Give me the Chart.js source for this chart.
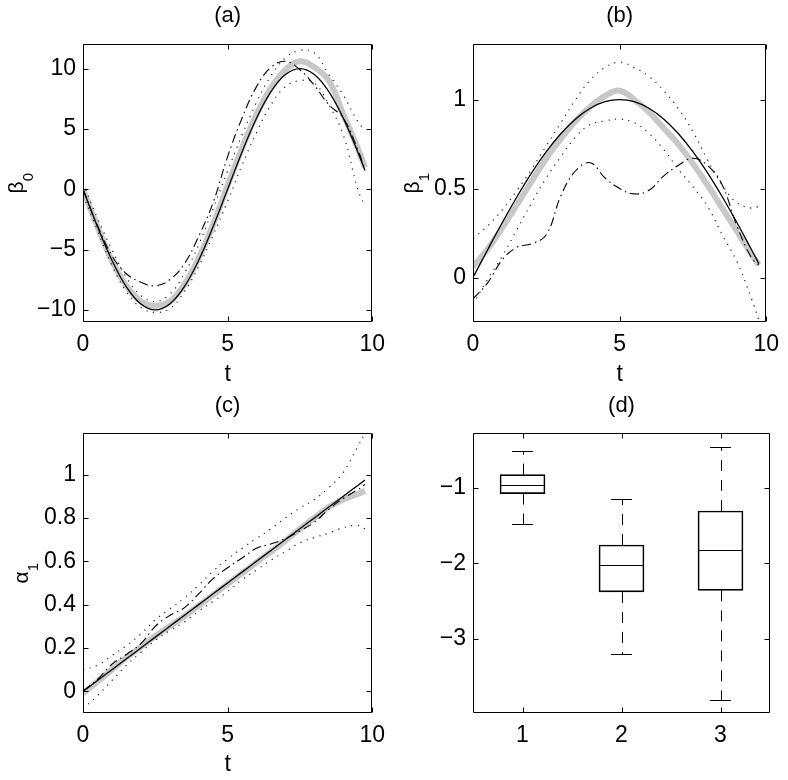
<!DOCTYPE html>
<html>
<head>
<meta charset="utf-8">
<script src="https://cdn.jsdelivr.net/npm/chart.js@4.4.1/dist/chart.umd.min.js"></script>
<style>
  html, body { margin: 0; padding: 0; background: #fff; }
  #wrap { position: relative; width: 788px; height: 780px; }
  canvas { position: absolute; }
</style>
</head>
<body>
<div id="wrap">
  <canvas id="panelA" width="394" height="390" style="left:0;top:0"></canvas>
  <canvas id="panelB" width="394" height="390" style="left:394px;top:0"></canvas>
  <canvas id="panelC" width="394" height="390" style="left:0;top:390px"></canvas>
  <canvas id="panelD" width="394" height="390" style="left:394px;top:390px"></canvas>
</div>
<script>
/* ══════════════════════════════
   DATA
══════════════════════════════ */
const tGrid = [0, 0.5, 1, 1.5, 2, 2.5, 3, 3.5, 4, 4.5, 5, 5.5, 6, 6.5, 7, 7.5, 8, 8.5, 9, 9.5, 9.75];
const tTicks = [0, 5, 10];

// (a) beta0
const beta0True  = [0, -3.09, -5.88, -8.09, -9.51, -10, -9.51, -8.09, -5.88, -3.09, 0, 3.09, 5.88, 8.09, 9.51, 10, 9.51, 8.09, 5.88, 3.09, 1.56];
const beta0Mean  = [0, -3.1, -5.9, -8.0, -9.3, -9.65, -9.3, -7.9, -5.7, -2.9, 0.3, 3.4, 6.2, 8.4, 9.9, 10.6, 10.1, 9.0, 6.2, 3.4, 1.8];
const beta0Alt   = [0, -3.0, -5.5, -7.0, -7.7, -8.0, -7.5, -6.2, -3.9, -1.1, 2.7, 5.9, 8.5, 10.1, 10.6, 9.9, 8.6, 7.0, 5.9, 3.3, 1.6];
const beta0Upper = [0.5, -2.4, -5.0, -7.3, -8.8, -9.3, -8.7, -7.0, -4.6, -1.6, 1.5, 4.5, 7.2, 9.4, 10.9, 11.5, 11.3, 9.5, 7.8, 5.6, 4.9];
const beta0Lower = [-0.5, -3.4, -6.3, -8.5, -9.8, -10.2, -9.9, -8.5, -6.4, -3.8, -1.0, 2.0, 4.7, 7.0, 8.5, 9.0, 8.8, 7.0, 4.5, 0.0, -1.4];
const beta0Ticks = [-10, -5, 0, 5, 10];

// (b) beta1
const beta1True  = [0, 0.156, 0.309, 0.454, 0.588, 0.707, 0.809, 0.891, 0.951, 0.988, 1, 0.988, 0.951, 0.891, 0.809, 0.707, 0.588, 0.454, 0.309, 0.156, 0.078];
const beta1Mean  = [0.06, 0.16, 0.28, 0.41, 0.54, 0.67, 0.78, 0.88, 0.96, 1.02, 1.05, 1.0, 0.93, 0.84, 0.75, 0.64, 0.52, 0.39, 0.26, 0.13, 0.07];
const beta1Alt   = [-0.12, -0.03, 0.10, 0.17, 0.19, 0.24, 0.46, 0.60, 0.645, 0.56, 0.50, 0.47, 0.49, 0.57, 0.63, 0.67, 0.63, 0.52, 0.29, 0.11, 0.07];
const beta1Upper = [0.22, 0.29, 0.38, 0.49, 0.61, 0.74, 0.87, 1.0, 1.11, 1.18, 1.21, 1.18, 1.13, 1.05, 0.95, 0.82, 0.66, 0.52, 0.42, 0.39, 0.40];
const beta1Lower = [-0.15, -0.01, 0.12, 0.27, 0.42, 0.56, 0.68, 0.79, 0.86, 0.88, 0.89, 0.87, 0.81, 0.72, 0.61, 0.51, 0.40, 0.24, 0.09, -0.12, -0.24];
const beta1Ticks = [0, 0.5, 1];

// (c) alpha1
const alpha1True  = [0, 0.05, 0.1, 0.15, 0.2, 0.25, 0.3, 0.35, 0.4, 0.45, 0.5, 0.55, 0.6, 0.65, 0.7, 0.75, 0.8, 0.85, 0.9, 0.95, 0.975];
const alpha1Mean  = [-0.01, 0.045, 0.1, 0.155, 0.205, 0.255, 0.3, 0.345, 0.395, 0.445, 0.495, 0.545, 0.595, 0.645, 0.695, 0.75, 0.8, 0.85, 0.885, 0.91, 0.925];
const alpha1Alt   = [0.0, 0.055, 0.125, 0.17, 0.22, 0.30, 0.35, 0.385, 0.45, 0.52, 0.57, 0.615, 0.66, 0.68, 0.705, 0.74, 0.78, 0.84, 0.89, 0.93, 0.955];
const alpha1Upper = [0.10, 0.12, 0.165, 0.21, 0.265, 0.33, 0.38, 0.43, 0.49, 0.555, 0.61, 0.66, 0.705, 0.75, 0.80, 0.845, 0.885, 0.94, 1.01, 1.13, 1.19];
const alpha1Lower = [-0.08, -0.02, 0.05, 0.12, 0.18, 0.235, 0.28, 0.32, 0.37, 0.415, 0.46, 0.515, 0.56, 0.605, 0.645, 0.685, 0.71, 0.73, 0.755, 0.765, 0.75];
const alpha1Ticks = [0, 0.2, 0.4, 0.6, 0.8, 1];

// (d) boxplots
const boxCats        = [1, 2, 3];
const boxWhiskerHigh = [-0.52, -1.15, -0.47];
const boxQ3          = [-0.83, -1.76, -1.31];
const boxMedian      = [-0.97, -2.03, -1.82];
const boxQ1          = [-1.08, -2.38, -2.36];
const boxWhiskerLow  = [-1.48, -3.20, -3.81];
const boxTicks       = [-3, -2, -1];

/* ══════════════════════════════
   HELPERS
══════════════════════════════ */
const TICK_FONT = "'Liberation Sans Narrow', 'Liberation Sans', Arial, sans-serif";
const TEXT_FONT = "'Liberation Sans', Arial, sans-serif";

Chart.defaults.font.family = TICK_FONT;
Chart.defaults.color = '#000';
Chart.defaults.animation = false;
Chart.defaults.plugins.legend.display = false;
Chart.defaults.plugins.tooltip.enabled = false;

const fmt = v => String(v).replace('-', '\u2212');
const pts = (xs, ys) => xs.map((x, i) => ({ x: x, y: ys[i] }));

// box round the axes with inward ticks on all four sides
const frame = {
  id: 'frame',
  afterDatasetsDraw(chart) {
    const { ctx, chartArea: a, scales: { x, y } } = chart;
    const len = 5;
    const L = Math.round(a.left) + 0.5, R = Math.round(a.right) - 0.5;
    const T = Math.round(a.top) + 0.5, B = Math.round(a.bottom) - 0.5;
    ctx.save();
    ctx.strokeStyle = '#000';
    ctx.lineWidth = 1;
    ctx.setLineDash([]);
    ctx.beginPath();
    x.ticks.forEach(t => {
      const px = Math.round(x.getPixelForValue(t.value)) + 0.5;
      ctx.moveTo(px, B); ctx.lineTo(px, B - len);
      ctx.moveTo(px, T); ctx.lineTo(px, T + len);
    });
    y.ticks.forEach(t => {
      const py = Math.round(y.getPixelForValue(t.value)) + 0.5;
      ctx.moveTo(L, py); ctx.lineTo(L + len, py);
      ctx.moveTo(R, py); ctx.lineTo(R - len, py);
    });
    ctx.rect(L, T, R - L, B - T);
    ctx.stroke();
    ctx.restore();
  }
};

// rotated y label with a real subscript (beta_0, alpha_1 ...)
const yLabel = {
  id: 'ylabel',
  afterDraw(chart, args, opts) {
    if (!opts.main) return;
    const { ctx, chartArea: a } = chart;
    ctx.save();
    ctx.fillStyle = '#000';
    ctx.textBaseline = 'alphabetic';
    ctx.textAlign = 'left';
    ctx.font = '21px ' + TEXT_FONT;
    const w = ctx.measureText(opts.main).width;
    ctx.font = '15px ' + TEXT_FONT;
    const ws = ctx.measureText(opts.sub).width;
    ctx.translate(opts.baseline, (a.top + a.bottom) / 2);
    ctx.rotate(-Math.PI / 2);
    const start = -(w + ws) / 2;
    ctx.font = '21px ' + TEXT_FONT;
    ctx.fillText(opts.main, start, 0);
    ctx.font = '15px ' + TEXT_FONT;
    ctx.fillText(opts.sub, start + w, 10);
    ctx.restore();
  }
};

// whiskers, caps and medians of panel (d)
const whiskers = {
  id: 'whiskers',
  afterDatasetsDraw(chart) {
    const { ctx, scales: { x, y } } = chart;
    ctx.save();
    ctx.strokeStyle = '#000';
    ctx.lineWidth = 1;
    boxCats.forEach((c, i) => {
      const cx = Math.round(x.getPixelForValue(c)) + 0.5;
      ctx.setLineDash([11, 9]);
      ctx.beginPath();
      ctx.moveTo(cx, y.getPixelForValue(boxQ3[i]));
      ctx.lineTo(cx, y.getPixelForValue(boxWhiskerHigh[i]));
      ctx.moveTo(cx, y.getPixelForValue(boxQ1[i]));
      ctx.lineTo(cx, y.getPixelForValue(boxWhiskerLow[i]));
      ctx.stroke();

      ctx.setLineDash([]);
      ctx.beginPath();
      [boxWhiskerHigh[i], boxWhiskerLow[i]].forEach(v => {
        const py = Math.round(y.getPixelForValue(v)) + 0.5;
        ctx.moveTo(x.getPixelForValue(c - 0.105), py);
        ctx.lineTo(x.getPixelForValue(c + 0.105), py);
      });
      const pm = Math.round(y.getPixelForValue(boxMedian[i])) + 0.5;
      ctx.moveTo(x.getPixelForValue(c - 0.225), pm);
      ctx.lineTo(x.getPixelForValue(c + 0.225), pm);
      ctx.stroke();
    });
    ctx.restore();
  }
};

function axes(cfg) {
  return {
    x: {
      type: 'linear',
      min: cfg.xMin, max: cfg.xMax,
      offset: false,
      afterBuildTicks: s => { s.ticks = cfg.xTicks.map(v => ({ value: v })); },
      afterFit: s => { s.height = cfg.xHeight; },
      grid: { display: false, drawTicks: false },
      border: { display: false },
      ticks: { padding: 9, autoSkip: false, maxRotation: 0, font: { size: 23 }, callback: fmt },
      title: {
        display: cfg.xTitle !== '',
        text: cfg.xTitle,
        font: { family: TEXT_FONT, size: 23 },
        padding: { top: 0, bottom: 2 }
      }
    },
    y: {
      type: 'linear',
      min: cfg.yMin, max: cfg.yMax,
      afterBuildTicks: s => { s.ticks = cfg.yTicks.map(v => ({ value: v })); },
      afterFit: s => { s.width = cfg.yWidth; },
      grid: { display: false, drawTicks: false },
      border: { display: false },
      ticks: { padding: 7, autoSkip: false, font: { size: 23 }, callback: fmt }
    }
  };
}

function titleOpts(text, below) {
  return {
    display: true,
    text: text,
    fullSize: false,
    font: { family: TEXT_FONT, size: 22, weight: 'normal' },
    padding: { top: 3, bottom: below }
  };
}

function curveSet(means, truth, alt, upper, lower) {
  const base = { pointRadius: 0, tension: 0.4, fill: false, borderColor: '#000' };
  const dotted = { borderWidth: 1.2, borderColor: '#222', borderDash: [1.2, 5.5] };
  return [
    Object.assign({}, base, { label: 'true', data: pts(tGrid, truth), borderWidth: 1.3 }),
    Object.assign({}, base, { label: 'alt', data: pts(tGrid, alt), borderWidth: 1.1, borderDash: [9, 4, 1.5, 4] }),
    Object.assign({}, base, dotted, { label: 'upper', data: pts(tGrid, upper) }),
    Object.assign({}, base, dotted, { label: 'lower', data: pts(tGrid, lower) }),
    Object.assign({}, base, { label: 'mean', data: pts(tGrid, means), borderWidth: 6, borderColor: '#c8c8c8', order: 5 })
  ];
}

/* ══════════════════════════════
   PANEL (a)
══════════════════════════════ */
new Chart(document.getElementById('panelA'), {
  type: 'line',
  data: { datasets: curveSet(beta0Mean, beta0True, beta0Alt, beta0Upper, beta0Lower) },
  options: {
    responsive: false,
    layout: { padding: { left: 0, right: 13, top: 0, bottom: 0 } },
    plugins: {
      title: titleOpts('(a)', 15),
      ylabel: { main: 'β', sub: '0', baseline: 23 }
    },
    scales: axes({
      xMin: 0, xMax: 10, xTicks: tTicks, xHeight: 68, xTitle: 't',
      yMin: -11, yMax: 12, yTicks: beta0Ticks, yWidth: 83
    })
  },
  plugins: [frame, yLabel]
});

/* ══════════════════════════════
   PANEL (b)
══════════════════════════════ */
new Chart(document.getElementById('panelB'), {
  type: 'line',
  data: { datasets: curveSet(beta1Mean, beta1True, beta1Alt, beta1Upper, beta1Lower) },
  options: {
    responsive: false,
    layout: { padding: { left: 0, right: 18, top: 0, bottom: 0 } },
    plugins: {
      title: titleOpts('(b)', 15),
      ylabel: { main: 'β', sub: '1', baseline: 25 }
    },
    scales: axes({
      xMin: 0, xMax: 10, xTicks: tTicks, xHeight: 68, xTitle: 't',
      yMin: -0.25, yMax: 1.31, yTicks: beta1Ticks, yWidth: 79
    })
  },
  plugins: [frame, yLabel]
});

/* ══════════════════════════════
   PANEL (c)
══════════════════════════════ */
new Chart(document.getElementById('panelC'), {
  type: 'line',
  data: { datasets: curveSet(alpha1Mean, alpha1True, alpha1Alt, alpha1Upper, alpha1Lower) },
  options: {
    responsive: false,
    layout: { padding: { left: 0, right: 13, top: 0, bottom: 0 } },
    plugins: {
      title: titleOpts('(c)', 14),
      ylabel: { main: 'α', sub: '1', baseline: 28 }
    },
    scales: axes({
      xMin: 0, xMax: 10, xTicks: tTicks, xHeight: 67, xTitle: 't',
      yMin: -0.1, yMax: 1.19, yTicks: alpha1Ticks, yWidth: 83
    })
  },
  plugins: [frame, yLabel]
});

/* ══════════════════════════════
   PANEL (d)
══════════════════════════════ */
new Chart(document.getElementById('panelD'), {
  type: 'bar',
  data: {
    datasets: [{
      label: 'box',
      data: boxCats.map((c, i) => ({ x: c, y: [boxQ1[i], boxQ3[i]] })),
      backgroundColor: 'rgba(255, 255, 255, 0)',
      borderColor: '#000',
      borderWidth: 1,
      borderSkipped: false,
      barThickness: 45
    }]
  },
  options: {
    responsive: false,
    layout: { padding: { left: 0, right: 18, top: 0, bottom: 0 } },
    plugins: { title: titleOpts('(d)', 14) },
    scales: axes({
      xMin: 0.5, xMax: 3.5, xTicks: boxCats, xHeight: 67, xTitle: '',
      yMin: -3.98, yMax: -0.285, yTicks: boxTicks, yWidth: 79
    })
  },
  plugins: [whiskers, frame]
});
</script>
</body>
</html>
